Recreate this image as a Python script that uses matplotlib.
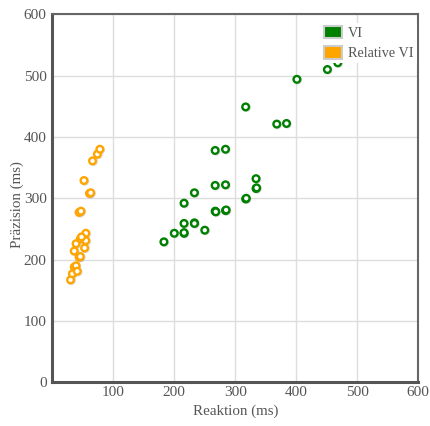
import numpy as np
import matplotlib.pyplot as plt
import matplotlib.patheffects as pe
from matplotlib.patches import Patch

# Daten
vi_reaktion = [183, 200, 216, 216, 216, 233, 233, 250, 216, 233, 267, 284,
               267, 268, 284, 285, 317, 318, 334, 334, 335, 267, 284, 317,
               368, 384, 401, 451, 468]
vi_praezision = [229, 243, 243, 244, 259, 260, 259, 248, 292, 309, 321, 322,
                 279, 278, 280, 281, 299, 300, 332, 316, 317, 378, 380, 449,
                 421, 422, 494, 510, 521]

rel_reaktion = [30, 33, 36, 39, 41, 44, 46, 36, 39, 46, 53, 55, 55, 48,
                44, 47, 61, 63, 52, 66, 74, 78]
rel_praezision = [167, 177, 188, 190, 181, 204, 205, 214, 226, 234, 219, 231,
                  243, 237, 277, 279, 308, 309, 329, 361, 372, 380]

labels = ["VI", "Relative VI"]
farben = ["#008000", "#FFA500"]
ticks = [0, 100, 200, 300, 400, 500, 600]

plt.rcParams['font.family'] = ['Liberation Serif', 'DejaVu Serif']

fig = plt.figure(figsize=(4.31, 4.26), dpi=100)
ax = fig.add_axes([0.1213, 0.1026, 0.8492, 0.8638])

schatten = [pe.SimpleLineShadow(offset=(0.5, -0.5), shadow_color='#888888', alpha=0.3), pe.Normal()]

ax.plot(vi_reaktion, vi_praezision, linestyle='none', marker='o', markersize=4.8,
        markerfacecolor='white', markeredgecolor=farben[0], markeredgewidth=1.7,
        path_effects=schatten, zorder=3, clip_on=False)
ax.plot(rel_reaktion, rel_praezision, linestyle='none', marker='o', markersize=4.8,
        markerfacecolor='white', markeredgecolor=farben[1], markeredgewidth=1.7,
        path_effects=schatten, zorder=3, clip_on=False)

ax.set_xlim(0, 600)
ax.set_ylim(0, 600)
ax.set_xticks(ticks)
ax.set_yticks(ticks)
ax.set_xticklabels(["", "100", "200", "300", "400", "500", "600"])
ax.grid(True, color='#dddddd', linewidth=1.0)
ax.set_axisbelow(True)
ax.tick_params(length=0, labelsize=11, colors='#555555')
ax.tick_params(axis='y', pad=4)
ax.tick_params(axis='x', pad=3)

for s in ['top', 'right']:
    ax.spines[s].set_color('#666666')
    ax.spines[s].set_linewidth(1.5)
for s in ['left', 'bottom']:
    ax.spines[s].set_color('#555555')
    ax.spines[s].set_linewidth(2.2)

ax.set_xlabel("Reaktion (ms)", fontsize=10.8, color='#555555', labelpad=4)
ax.set_ylabel("Präzision (ms)", fontsize=10.8, color='#555555', labelpad=4)
ax.yaxis.set_label_coords(-0.078, 0.482)

handles = [Patch(facecolor=farben[i], edgecolor='#cccccc', linewidth=1.5) for i in range(2)]
leg = ax.legend(handles, labels, loc='upper left',
                bbox_to_anchor=(321 / 431, 1 - 23 / 426), bbox_transform=fig.transFigure,
                frameon=True, fontsize=10.3, handlelength=1.3, handleheight=0.95,
                handletextpad=0.4, labelspacing=0.45, borderaxespad=0, borderpad=0.2,
                fancybox=False)
leg.get_frame().set_facecolor('white')
leg.get_frame().set_edgecolor('none')
leg.get_frame().set_alpha(1.0)
leg.set_zorder(5)
for t in leg.get_texts():
    t.set_color('#555555')

fig.savefig("out.png", dpi=100)
